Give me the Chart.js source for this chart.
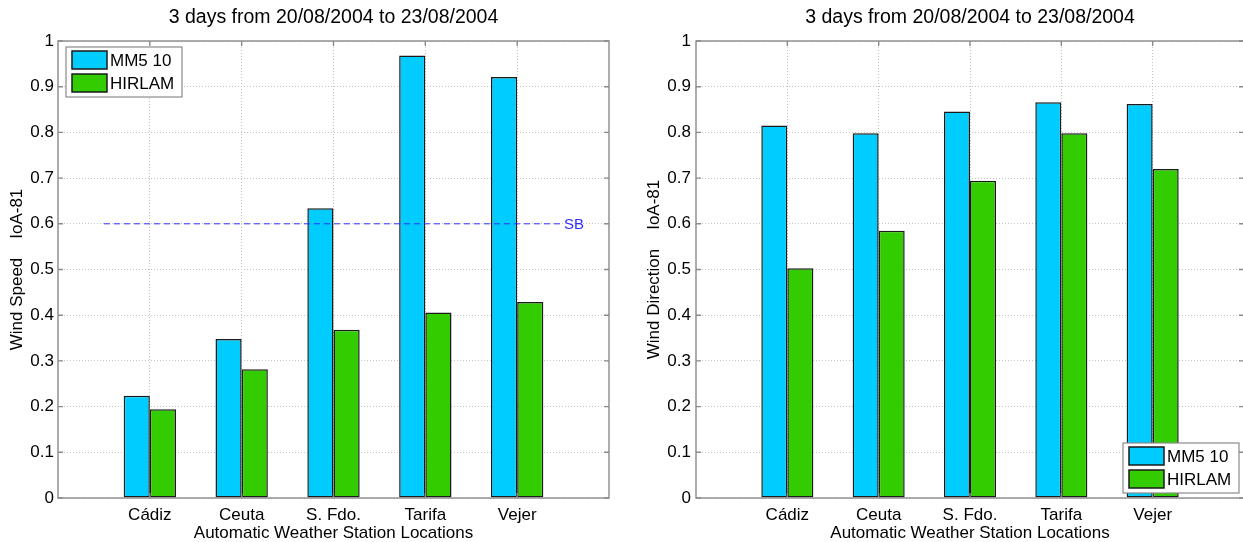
<!DOCTYPE html>
<html>
<head>
<meta charset="utf-8">
<script src="https://cdn.jsdelivr.net/npm/chart.js@4.4.1/dist/chart.umd.min.js"></script>
<style>
  html, body { margin: 0; padding: 0; background: #fff; overflow: hidden; }
  #wrap { position: relative; width: 1243px; height: 542px; overflow: hidden; background: #fff; }
  canvas { position: absolute; top: 0; }
</style>
</head>
<body>
<div id="wrap">
  <canvas id="c1" width="667" height="542" style="left:0px;width:667px;height:542px"></canvas>
  <canvas id="c2" width="700" height="542" style="left:620px;width:700px;height:542px"></canvas>
</div>
<script>
// ---- data ----
const categories = ['Cádiz', 'Ceuta', 'S. Fdo.', 'Tarifa', 'Vejer'];
const categoryPositions = [1, 2, 3, 4, 5];
const seriesNames = ['MM5 10', 'HIRLAM'];
const speedMM5 = [0.224, 0.348, 0.634, 0.968, 0.921];
const speedHIRLAM = [0.194, 0.282, 0.368, 0.406, 0.429];
const dirMM5 = [0.815, 0.798, 0.846, 0.866, 0.862];
const dirHIRLAM = [0.503, 0.585, 0.694, 0.798, 0.720];
const sbLevel = 0.6;
const sbRange = [0.5, 5.5];
const sbLabel = 'SB';
const yTickValues = [0, 0.1, 0.2, 0.3, 0.4, 0.5, 0.6, 0.7, 0.8, 0.9, 1];
const yTickLabels = ['0', '0.1', '0.2', '0.3', '0.4', '0.5', '0.6', '0.7', '0.8', '0.9', '1'];
const chartTitle = '3 days from 20/08/2004 to 23/08/2004';
const xTitle = 'Automatic Weather Station Locations';
const yTitleLeft = 'Wind Speed    IoA-81';
const yTitleRight = 'Wind Direction    IoA-81';

const FONT = "'Liberation Sans', Arial, Helvetica, sans-serif";
Chart.defaults.font.family = FONT;
Chart.defaults.font.size = 17;
Chart.defaults.color = '#000';

const CYAN = '#00CCFF';
const GREEN = '#33CC00';

function pts(vals) { return categoryPositions.map((x, i) => ({ x: x, y: vals[i] })); }

const framePlugin = {
  id: 'frame',
  afterDatasetsDraw(chart) {
    const { ctx, chartArea: a, scales } = chart;
    ctx.save();
    ctx.strokeStyle = '#8a8a8a';
    ctx.lineWidth = 1.4;
    ctx.beginPath();
    yTickValues.forEach(v => {
      const y = scales.y.getPixelForValue(v);
      ctx.moveTo(a.left, y); ctx.lineTo(a.left + 5, y);
      ctx.moveTo(a.right, y); ctx.lineTo(a.right - 5, y);
    });
    categoryPositions.forEach(v => {
      const x = scales.x.getPixelForValue(v);
      ctx.moveTo(x, a.bottom); ctx.lineTo(x, a.bottom - 5);
      ctx.moveTo(x, a.top); ctx.lineTo(x, a.top + 5);
    });
    ctx.stroke();
    ctx.strokeRect(a.left, a.top, a.right - a.left, a.bottom - a.top);
    ctx.restore();
  }
};

const legendPlugin = {
  id: 'boxLegend',
  afterDraw(chart, args, opts) {
    const { ctx, chartArea: a } = chart;
    const w = 116, h = 50;
    let bx, by;
    if (opts.corner === 'nw') { bx = a.left + 8; by = a.top + 6; }
    else { bx = a.right - 5 - w; by = a.bottom - 5 - h; }
    ctx.save();
    ctx.fillStyle = '#fff';
    ctx.fillRect(bx, by, w, h);
    ctx.strokeStyle = '#8a8a8a';
    ctx.lineWidth = 1.2;
    ctx.strokeRect(bx, by, w, h);
    const bars = chart.data.datasets.filter(d => (d.type || 'bar') === 'bar');
    bars.forEach((d, i) => {
      const sy = by + 4 + i * 23;
      ctx.fillStyle = d.backgroundColor;
      ctx.fillRect(bx + 6, sy, 35, 18);
      ctx.strokeStyle = '#1a1a1a';
      ctx.lineWidth = 1.5;
      ctx.strokeRect(bx + 6, sy, 35, 18);
      ctx.fillStyle = '#000';
      ctx.font = '17px ' + FONT;
      ctx.textBaseline = 'middle';
      ctx.textAlign = 'left';
      ctx.fillText(d.label, bx + 44, sy + 10);
    });
    ctx.restore();
  }
};

const sbPlugin = {
  id: 'sbLabel',
  afterDraw(chart, args, opts) {
    if (!opts.show) return;
    const { ctx, scales } = chart;
    ctx.save();
    ctx.fillStyle = '#2f2fff';
    ctx.font = '15px ' + FONT;
    ctx.textBaseline = 'middle';
    ctx.textAlign = 'left';
    ctx.fillText(sbLabel, scales.x.getPixelForValue(sbRange[1]) + 1, scales.y.getPixelForValue(sbLevel) + 1);
    ctx.restore();
  }
};

function makeChart(id, mm5, hirlam, yTitle, yAxisWidth, yTitlePad, yTickPad, corner, withSB) {
  const datasets = [
    { type: 'bar', label: seriesNames[0], data: pts(mm5), backgroundColor: CYAN, borderColor: '#1a1a1a', borderWidth: 1.5, borderSkipped: false, order: 2 },
    { type: 'bar', label: seriesNames[1], data: pts(hirlam), backgroundColor: GREEN, borderColor: '#1a1a1a', borderWidth: 1.5, borderSkipped: false, order: 2 }
  ];
  if (withSB) {
    datasets.push({ type: 'line', label: sbLabel, data: [{ x: sbRange[0], y: sbLevel }, { x: sbRange[1], y: sbLevel }],
      borderColor: '#2f2fff', borderWidth: 1, borderDash: [6, 4], pointRadius: 0, fill: false, order: 1 });
  }
  return new Chart(document.getElementById(id), {
    type: 'bar',
    data: { datasets },
    plugins: [framePlugin, legendPlugin, sbPlugin],
    options: {
      responsive: false,
      animation: false,
      devicePixelRatio: 1,
      layout: { padding: 0 },
      datasets: { bar: { categoryPercentage: 0.57, barPercentage: 1.0, grouped: true } },
      plugins: {
        legend: { display: false },
        tooltip: { enabled: false },
        title: { display: true, text: chartTitle, color: '#000', font: { size: 19.5, weight: 'normal' }, padding: { top: 6.2, bottom: 11.4 } },
        boxLegend: { corner },
        sbLabel: { show: withSB }
      },
      scales: {
        x: {
          type: 'linear', min: 0, max: 6, offset: false,
          afterBuildTicks(s) { s.ticks = categoryPositions.map(v => ({ value: v })); },
          afterFit(s) { s.height = 44; },
          ticks: { padding: 7, color: '#000', font: { size: 17 }, maxRotation: 0, autoSkip: false,
            callback(v) { const i = categoryPositions.indexOf(v); return i >= 0 ? categories[i] : ''; } },
          grid: { offset: false, drawTicks: false, color: '#c4c4c4', lineWidth: 1 },
          border: { display: false, dash: [1, 2] },
          title: { display: true, text: xTitle, color: '#000', font: { size: 17, lineHeight: 1 }, padding: { top: 0, bottom: 0 } }
        },
        y: {
          type: 'linear', position: 'left', min: 0, max: 1,
          afterBuildTicks(s) { s.ticks = yTickValues.map(v => ({ value: v })); },
          afterFit(s) { s.width = yAxisWidth; },
          ticks: { padding: yTickPad, color: '#000', font: { size: 17 },
            callback(v, i) { return yTickLabels[i]; } },
          grid: { drawTicks: false, color: '#c4c4c4', lineWidth: 1 },
          border: { display: false, dash: [1, 2] },
          title: { display: true, text: yTitle, color: '#000', font: { size: 17 }, padding: { top: yTitlePad, bottom: 0 } }
        },
        ySpacer: {
          type: 'linear', position: 'right', display: true, min: 0, max: 1,
          afterFit(s) { s.width = yAxisWidth; },
          ticks: { display: false },
          grid: { display: false, drawTicks: false },
          border: { display: false }
        }
      }
    }
  });
}

makeChart('c1', speedMM5, speedHIRLAM, yTitleLeft, 58, 7, 4, 'nw', true);
makeChart('c2', dirMM5, dirHIRLAM, yTitleRight, 76, 23.8, 5, 'se', false);
</script>
</body>
</html>
